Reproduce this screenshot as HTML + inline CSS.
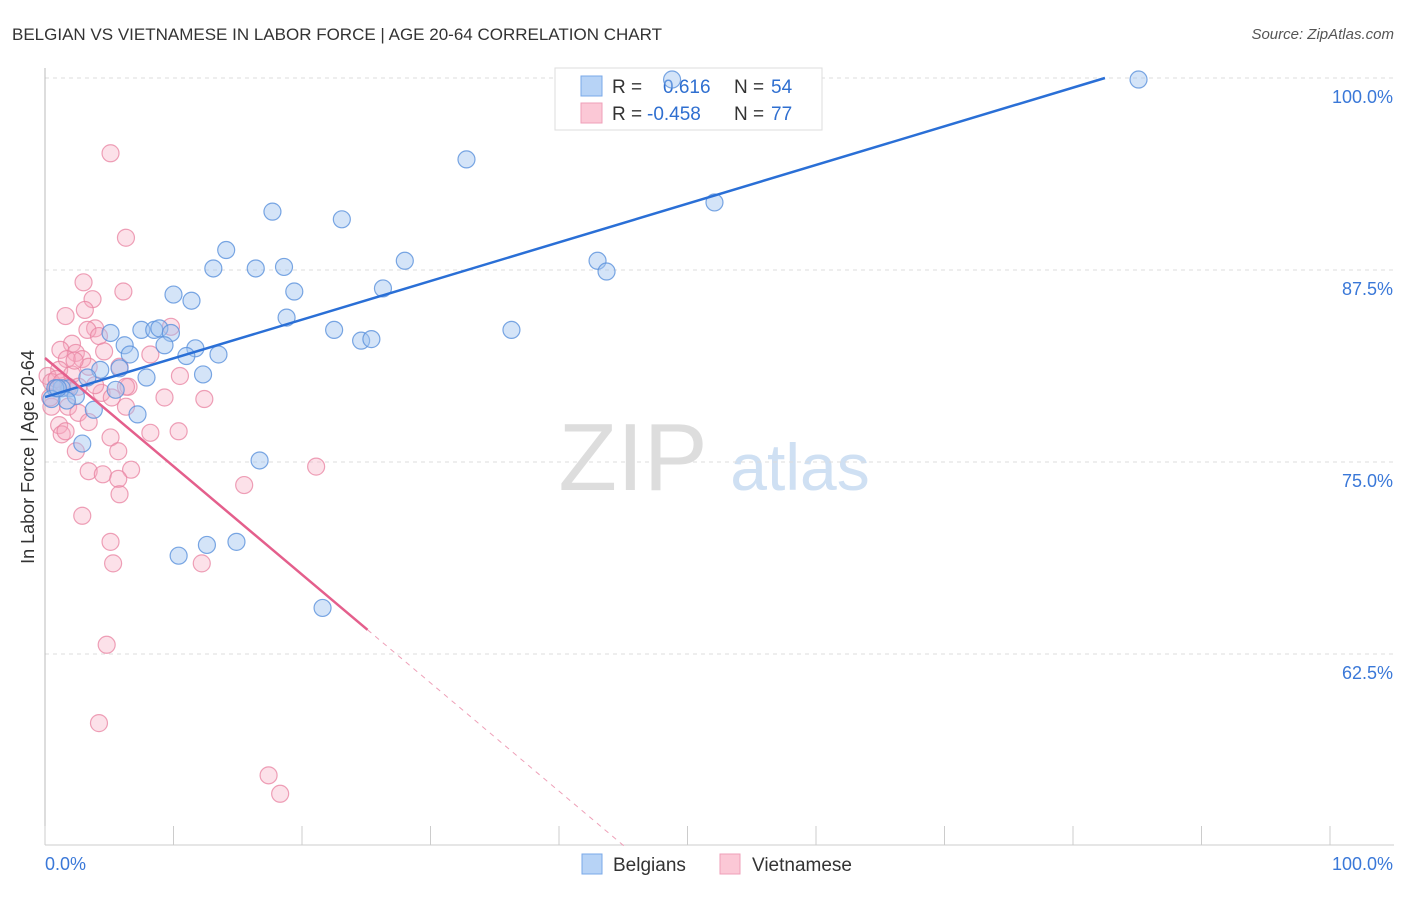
<!DOCTYPE html>
<html><head><meta charset="utf-8"><style>
body{margin:0;background:#fff;font-family:"Liberation Sans",sans-serif;}
#c{position:relative;width:1406px;height:892px;}
svg text{font-family:"Liberation Sans",sans-serif;}
</style></head><body>
<div id="c">
<svg id="s" width="1406" height="892">
<text x="12" y="40" font-size="17" fill="#333">BELGIAN VS VIETNAMESE IN LABOR FORCE | AGE 20-64 CORRELATION CHART</text>
<text x="1394" y="39" font-size="15" fill="#555" text-anchor="end" font-style="italic">Source: ZipAtlas.com</text>
<text x="0" y="0" transform="translate(34,457) rotate(-90)" font-size="18" fill="#333" text-anchor="middle">In Labor Force | Age 20-64</text>
<text x="633" y="490" font-size="96" fill="#ddd" text-anchor="middle" font-family="Liberation Serif">ZIP</text>
<text x="800" y="490" font-size="66" fill="#cfe0f3" text-anchor="middle">atlas</text>
<g id="grid"></g>
<g>
<rect x="555" y="68" width="267" height="62" fill="#fff" stroke="#ddd"/>
<rect x="581" y="76" width="21" height="20" fill="#b7d3f6" stroke="#7aa8e8"/>
<rect x="581" y="103" width="21" height="20" fill="#fbc8d6" stroke="#ef9fb8"/>
<text x="612" y="93" font-size="19" fill="#333">R =</text><text x="663" y="93" font-size="19" fill="#2f6fd0">0.616</text>
<text x="734" y="93" font-size="19" fill="#333">N =</text><text x="771" y="93" font-size="19" fill="#2f6fd0">54</text>
<text x="612" y="120" font-size="19" fill="#333">R =</text><text x="647" y="120" font-size="19" fill="#2f6fd0">-0.458</text>
<text x="734" y="120" font-size="19" fill="#333">N =</text><text x="771" y="120" font-size="19" fill="#2f6fd0">77</text>
</g>
<g id="pts"></g><g id="lines"></g>
<g>
<rect x="582" y="854" width="20" height="20" fill="#b7d3f6" stroke="#7aa8e8"/>
<text x="613" y="871" font-size="19" fill="#333">Belgians</text>
<rect x="720" y="854" width="20" height="20" fill="#fbc8d6" stroke="#ef9fb8"/>
<text x="752" y="871" font-size="19" fill="#333">Vietnamese</text>
</g>
</svg></div>
<script>
const yTicks=[100,87.5,75,62.5];
const yTickLabels=["100.0%","87.5%","75.0%","62.5%"];
const xTickLabels=["0.0%","100.0%"];
const belgiansX=[85.1,48.8,32.8,52.1,17.7,23.1,14.1,13.1,16.4,18.6,28.0,43.0,43.7,19.4,26.3,10.0,11.4,18.8,22.5,36.3,7.5,8.5,8.9,9.8,5.1,6.2,9.3,11.7,24.6,25.4,11.0,13.5,6.6,4.3,5.8,7.9,12.3,3.3,1.9,1.3,0.8,5.5,2.4,1.7,3.8,7.2,2.9,16.7,10.4,12.6,14.9,21.6,0.5,1.0];
const belgiansY=[99.9,99.9,94.7,91.9,91.3,90.8,88.8,87.6,87.6,87.7,88.1,88.1,87.4,86.1,86.3,85.9,85.5,84.4,83.6,83.6,83.6,83.6,83.7,83.4,83.4,82.6,82.6,82.4,82.9,83.0,81.9,82.0,82.0,81.0,81.1,80.5,80.7,80.5,79.8,79.8,79.8,79.7,79.3,79.0,78.4,78.1,76.2,75.1,68.9,69.6,69.8,65.5,79.1,79.8];
const vietX=[5.1,6.3,3.0,6.1,3.7,3.1,1.6,9.8,3.9,3.3,4.2,2.1,1.2,8.2,2.4,1.7,2.9,5.8,4.6,3.4,1.1,2.1,0.2,0.5,0.9,1.8,2.6,6.5,4.4,5.2,9.3,12.4,6.3,1.8,2.6,0.5,10.5,6.3,3.4,1.1,1.3,1.6,8.2,10.4,5.1,2.4,5.7,3.4,6.7,4.5,5.7,5.8,15.5,21.1,2.9,5.1,5.3,12.2,4.8,4.2,17.4,18.3,0.9,0.4,1.3,3.9,2.3];
const vietY=[95.1,89.6,86.7,86.1,85.6,84.9,84.5,83.8,83.7,83.6,83.2,82.7,82.3,82.0,82.1,81.7,81.7,81.2,82.2,81.2,81.0,80.7,80.6,80.2,79.8,79.9,79.9,79.9,79.5,79.2,79.2,79.1,78.6,78.6,78.2,78.6,80.6,79.9,77.6,77.4,76.8,77.0,76.9,77.0,76.6,75.7,75.7,74.4,74.5,74.2,73.9,72.9,73.5,74.7,71.5,69.8,68.4,68.4,63.1,58.0,54.6,53.4,80.4,79.2,80.2,80.0,81.6];
const trendBelg=[79.23,0.2518];
const trendViet=[81.77,-0.705];
const L=45,R=1330,T=78,B=845;
const xs=v=>L+(R-L)*v/100;
const ys=v=>T+(100-v)*15.36;
const NS="http://www.w3.org/2000/svg";
function mk(t,a,p){const e=document.createElementNS(NS,t);for(const k in a)e.setAttribute(k,a[k]);p.appendChild(e);return e;}
const g=document.getElementById('grid');
yTicks.forEach((v,i)=>{
 const l=mk('line',{x1:L,x2:1394,y1:ys(v),y2:ys(v),stroke:'#ddd','stroke-dasharray':'4,4'},g);
 
 
 const t=mk('text',{x:1393,y:ys(v)+25,'font-size':18,fill:'#3a78d8','text-anchor':'end'},g);
 t.textContent=yTickLabels[i];
 
 
});
mk('line',{x1:L,x2:L,y1:68,y2:B,stroke:'#bbb'},g);
mk('line',{x1:L,x2:1394,y1:B,y2:B,stroke:'#ccc'},g);
for(let i=0;i<=10;i++){mk('line',{x1:xs(i*10),x2:xs(i*10),y1:826,y2:B,stroke:'#ccc'},g);}
[0,100].forEach((v,i)=>{const t=mk('text',{x:i?1393:45,y:870,'font-size':18,fill:'#3a78d8','text-anchor':i?'end':'start'},g);t.textContent=xTickLabels[i];

});
const p=document.getElementById('pts');
vietX.forEach((x,i)=>{const c=mk('circle',{cx:xs(x),cy:ys(vietY[i]),r:8.5,fill:'rgba(246,170,192,0.35)',stroke:'rgba(232,130,160,0.75)','stroke-width':1.2},p);

});
belgiansX.forEach((x,i)=>{const c=mk('circle',{cx:xs(x),cy:ys(belgiansY[i]),r:8.5,fill:'rgba(160,196,240,0.45)',stroke:'rgba(90,145,220,0.8)','stroke-width':1.2},p);

});
const ln=document.getElementById('lines');
const bEnd=(100-trendBelg[0])/trendBelg[1];
const bl=mk('line',{x1:xs(0),y1:ys(trendBelg[0]),x2:xs(bEnd),y2:ys(100),stroke:'#2a6fd6','stroke-width':2.5},ln);


const vs=25.1,ve=(50-trendViet[0])/trendViet[1];
const vl=mk('line',{x1:xs(0),y1:ys(trendViet[0]),x2:xs(vs),y2:ys(trendViet[0]+trendViet[1]*vs),stroke:'#e45f8c','stroke-width':2.5},ln);


const vd=mk('line',{x1:xs(vs),y1:ys(trendViet[0]+trendViet[1]*vs),x2:xs(ve),y2:ys(50),stroke:'#eea0b8','stroke-width':1,'stroke-dasharray':'5,5'},ln);


</script>
</body></html>
